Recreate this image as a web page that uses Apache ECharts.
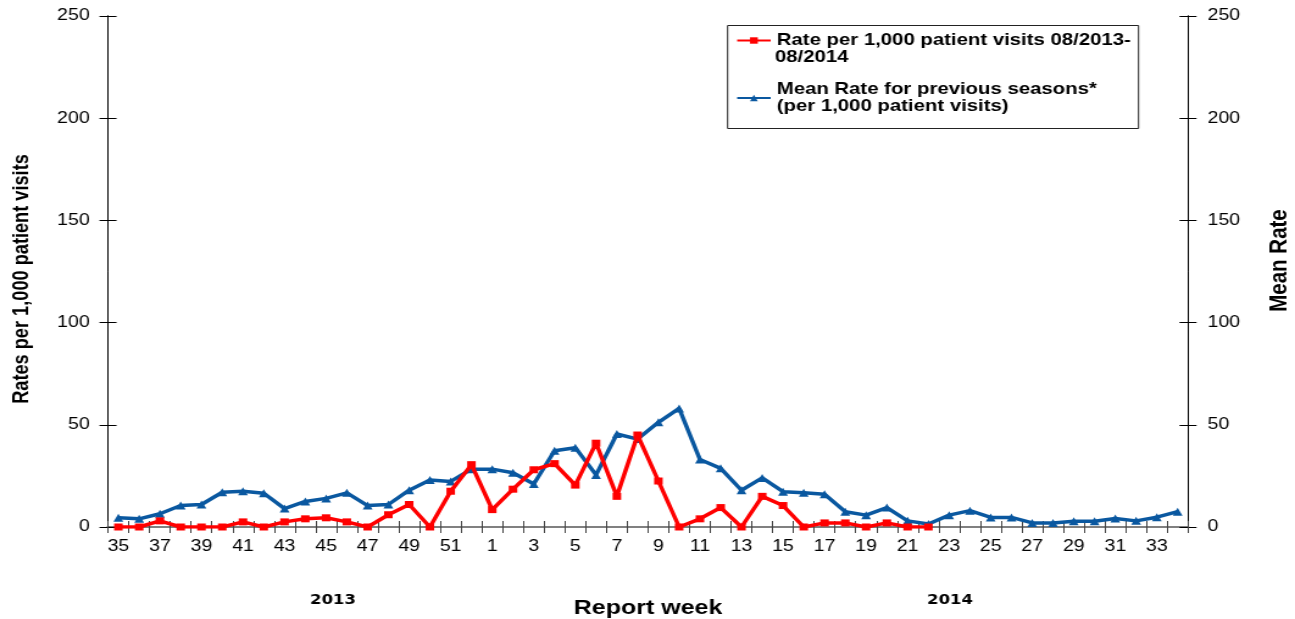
<!DOCTYPE html>
<html>
<head>
<meta charset="utf-8">
<script src="https://cdn.jsdelivr.net/npm/echarts@6/dist/echarts.min.js"></script>
<style>
html,body{margin:0;padding:0;background:#fff;overflow:hidden;}
/* the original picture is stretched sideways, so draw narrower and widen */
#chart{width:1062px;height:619px;transform:scaleX(1.2194);transform-origin:0 0;}
</style>
</head>
<body>
<div id="chart"></div>
<script>
// report weeks 35..52 (2013) then 1..34 (2014)
var weeks = ['35','36','37','38','39','40','41','42','43','44','45','46','47','48','49','50','51','52',
  '1','2','3','4','5','6','7','8','9','10','11','12','13','14','15','16','17','18','19','20',
  '21','22','23','24','25','26','27','28','29','30','31','32','33','34'];

var rateNow = [0,0,3,0,0,0,2.5,0,2.5,4,4.5,2.5,0,6,11,0,17.5,30.5,
  8.5,18.5,28,31,20.5,41,15,45,22.5,0,4,9.5,0,15,10.5,0,2,2,0,2,0,0,
  null,null,null,null,null,null,null,null,null,null,null,null];

var rateMean = [4.5,4,6.5,10.5,11,17,17.5,16.5,9,12.5,14,16.7,10.5,11,18,23,22.3,28.3,
  28.3,26.5,21,37.3,38.8,25.5,45.5,43,51.2,58,33,28.7,18,24,17.3,16.7,16,7.5,5.8,9.5,
  3,1.5,5.8,8,4.7,4.7,2,2,2.8,2.8,4.2,3,4.8,7.5];

var yTicks = {min: 0, max: 250, interval: 50};
var yearLabels = ['2013', '2014'];

var nameRed = 'Rate per 1,000 patient visits 08/2013-\n08/2014';
var nameBlue = 'Mean Rate for previous seasons*\n(per 1,000 patient visits)';

var font = 'Liberation Sans, Arial, sans-serif';

var chart = echarts.init(document.getElementById('chart'));

function yAx(pos, showLabel, inside, name, gap, nameSize, namePad) {
  return {
    type: 'value', position: pos,
    min: yTicks.min, max: yTicks.max, interval: yTicks.interval,
    name: name || '', nameLocation: 'middle', nameRotate: 90,
    nameGap: gap || 0,
    nameTextStyle: {fontFamily: font, fontWeight: 'bold', fontSize: nameSize || 18, color: '#000',
      padding: namePad || 0},
    axisLine: {show: true, lineStyle: {color: '#000', width: 1}},
    axisTick: {show: true, inside: inside, length: 7, lineStyle: {color: '#000'}},
    axisLabel: {show: showLabel, fontFamily: font, fontSize: 16, color: '#000', margin: pos == 'left' ? 15 : 16},
    splitLine: {show: false}
  };
}

function xAx(showLabel, inside) {
  return {
    type: 'category', data: weeks, position: 'bottom',
    boundaryGap: true,
    name: showLabel ? 'Report week' : '', nameLocation: 'middle', nameGap: 71,
    nameTextStyle: {fontFamily: font, fontWeight: 'bold', fontSize: 20.5, color: '#000'},
    axisLine: {show: true, lineStyle: {color: '#808080', width: 2}},
    axisTick: {show: true, inside: inside, length: 6, interval: 0, lineStyle: {color: '#444'}},
    axisLabel: {show: showLabel, interval: 1, fontFamily: font, fontSize: 16, color: '#000', margin: 12}
  };
}

var legendText = {fontFamily: font, fontWeight: 'bold', fontSize: 16.7, color: '#000', lineHeight: 17};

var option = {
  backgroundColor: '#fff',
  animation: false,
  grid: {left: 88.57, right: 87.75, top: 16, bottom: 92, outerBoundsMode: 'none'},
  legend: {
    orient: 'vertical', left: 603.5, top: 32,
    padding: 0,
    data: [nameRed, nameBlue],
    // first item keeps its second line apart so the icon sits on line one
    formatter: function (name) {
      return name == nameRed ? name.split('\n')[0] : name;
    },
    itemWidth: 27.5, itemHeight: 8, itemGap: 32,
    textStyle: legendText
  },
  xAxis: [xAx(true, false), xAx(false, true)],
  yAxis: [
    yAx('left', true, false, 'Rates per 1,000 patient visits', 62, 18.2, [0, 15, 0, 0]),
    yAx('right', true, false, 'Mean Rate', 65, 20.5, [0, 0, 0, 22]),
    yAx('left', false, true),
    yAx('right', false, true)
  ],
  graphic: [
    {type: 'rect', left: 596.2, top: 25, z: -1,
      shape: {width: 337, height: 103},
      style: {fill: '#fff', stroke: '#222', lineWidth: 1}},
    {type: 'text', x: 635.5, y: 49, z: 5,
      style: {text: nameRed.split('\n')[1], align: 'left', verticalAlign: 'top', lineHeight: 17,
        fontFamily: font, fontWeight: 'bold', fontSize: 16.7, fill: '#000'}},
    {type: 'text', x: 273.1, y: 600, style: {text: yearLabels[0], align: 'center', verticalAlign: 'middle',
      fontFamily: 'DejaVu Sans', fontWeight: 'bold', fontSize: 13.5, fill: '#000'}},
    {type: 'text', x: 779.1, y: 600, style: {text: yearLabels[1], align: 'center', verticalAlign: 'middle',
      fontFamily: 'DejaVu Sans', fontWeight: 'bold', fontSize: 13.5, fill: '#000'}}
  ],
  series: [
    {
      name: nameRed, type: 'line', data: rateNow,
      xAxisIndex: 0, yAxisIndex: 0,
      color: '#ff0000',
      lineStyle: {width: 3.5, color: '#ff0000'},
      symbol: 'rect', symbolSize: 7, showAllSymbol: true,
      itemStyle: {color: '#ff0000'},
      z: 3
    },
    {
      name: nameBlue, type: 'line', data: rateMean,
      xAxisIndex: 0, yAxisIndex: 1,
      color: '#0a58a0',
      lineStyle: {width: 3.5, color: '#0a58a0'},
      symbol: 'triangle', symbolSize: 8, showAllSymbol: true,
      itemStyle: {color: '#0a58a0'},
      z: 2
    }
  ]
};

chart.setOption(option);
</script>
</body>
</html>
